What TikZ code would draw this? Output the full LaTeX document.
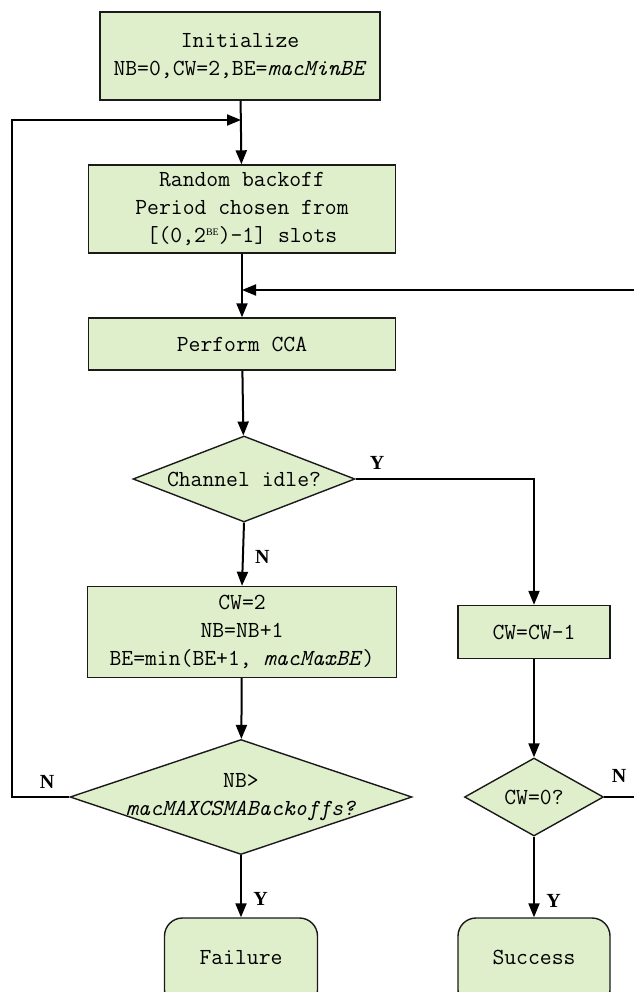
\documentclass[tikz,border=0pt]{standalone}
\usepackage{fontspec}
\setmainfont{Liberation Serif}
\usetikzlibrary{arrows.meta,shapes.geometric}
\definecolor{boxfill}{HTML}{DFEECB}
\definecolor{edgecol}{HTML}{1A1A1A}
\begin{document}
\begin{tikzpicture}[x=1pt,y=-1pt,
  txt/.style={font=\ttfamily\fontsize{23}{28}\selectfont},
  box/.style={draw=edgecol,line width=1.4pt,fill=boxfill,align=center,inner sep=0pt,txt},
  rbox/.style={box,rounded corners=18pt},
  dia/.style={diamond,draw=edgecol,line width=1.4pt,fill=boxfill,inner sep=0pt,aspect=2.6},
  arr/.style={line width=2pt,draw=black,-{Triangle[length=14pt,width=11pt]}},
  yn/.style={font=\rmfamily\fontsize{20}{22}\selectfont\bfseries}
]
\useasboundingbox (0,0) rectangle (633,992);

\node[box,minimum width=280,minimum height=88] (init) at (240,56) {Initialize\\NB=0,CW=2,BE=\textit{macMinBE}};
\node[box,minimum width=307,minimum height=88] (rand) at (242,209) {Random backoff\\Period chosen from\\{[}(0,2\raisebox{7pt}{\rmfamily\fontsize{10}{10}\selectfont BE})-1] slots};
\node[box,minimum width=307,minimum height=52] (cca) at (242,344) {Perform CCA};
\node[dia,minimum width=222,minimum height=86,label={[txt]center:Channel idle?}] (chd) at (244,479) {};
\node[box,minimum width=309,minimum height=91] (cw2) at (242,632) {CW=2\\NB=NB+1\\BE=min(BE+1, \textit{macMaxBE})};
\node[dia,minimum width=342,minimum height=115,label={[txt,align=center]center:NB>\\\textit{macMAXCSMABackoffs?}}] (nbd) at (241,797) {};
\node[rbox,minimum width=153,minimum height=90] (fail) at (241,963) {\raisebox{12pt}{Failure}};
\node[box,minimum width=152,minimum height=53] (cwm) at (534,632) {CW=CW-1};
\node[dia,minimum width=139,minimum height=78,label={[txt]center:CW=0?}] (cwd) at (534,797) {};
\node[rbox,minimum width=152,minimum height=90] (succ) at (534,963) {\raisebox{12pt}{Success}};

\coordinate (j1) at (241,120);
\coordinate (j2) at (242,290);
\coordinate (l1) at (12,797);
\coordinate (l2) at (12,120);
\coordinate (r1) at (645,797);
\coordinate (r2) at (645,290);
\coordinate (c1) at (534,479);

\draw[arr] (init) -- (rand);
\draw[arr] (rand) -- (cca);
\draw[arr] (cca) -- (chd);
\draw[arr] (chd.south) -- node[yn,right,xshift=8pt,pos=0.55]{N} (cw2.north);
\draw[arr] (cw2) -- (nbd);
\draw[arr] (nbd.south) -- node[yn,right,xshift=8pt,pos=0.7]{Y} (fail.north);
\draw[arr] (chd.east) -- (c1) -- (cwm.north);
\node[yn] (ylab) at (377,463) {Y};
\draw[arr] (cwm) -- (cwd);
\draw[arr] (cwd.south) -- node[yn,right,xshift=8pt,pos=0.8]{Y} (succ.north);
\draw[arr] (nbd.west) -- (l1) -- (l2) -- (j1);
\node[yn] (nlab) at (47,782) {N};
\draw[arr] (cwd.east) -- (r1) -- (r2) -- (j2);
\node[yn] (nlab2) at (619,776) {N};
\end{tikzpicture}
\end{document}
